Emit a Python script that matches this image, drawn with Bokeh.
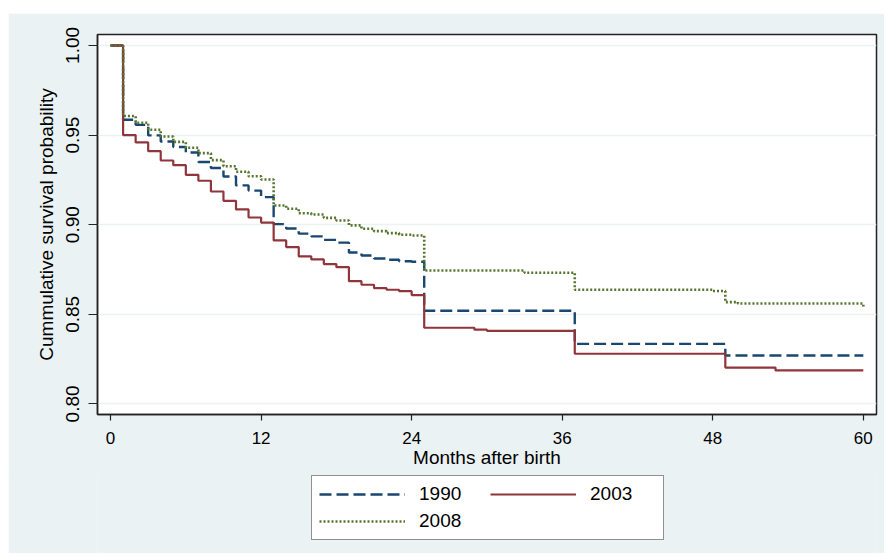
from bokeh.plotting import figure
from bokeh.models import Range1d, Legend, LegendItem, FixedTicker, NumeralTickFormatter
from bokeh.layouts import column
from bokeh.embed import file_html
from bokeh.resources import INLINE

# ---- data ----
months_1990 = [0, 1, 2, 3, 4, 5, 6, 7, 8, 9, 10, 11, 12, 13, 14, 15, 16, 17, 18, 19, 20,
               21, 22, 23, 24, 25, 37, 49, 60]
surv_1990 = [1.000, 0.9585, 0.9557, 0.9498, 0.9464, 0.9433, 0.9403, 0.9350, 0.9316, 0.9269,
             0.9219, 0.9190, 0.9154, 0.9003, 0.8979, 0.8950, 0.8935, 0.8915, 0.8900, 0.8845,
             0.8828, 0.8811, 0.8804, 0.8796, 0.8793, 0.8520, 0.8335, 0.8270, 0.8270]

months_2003 = [0, 1, 2, 3, 4, 5, 6, 7, 8, 9, 10, 11, 12, 13, 14, 15, 16, 17, 18, 19, 20,
               21, 22, 23, 24, 25, 29, 30, 37, 49, 53, 60]
surv_2003 = [1.000, 0.9500, 0.9459, 0.9410, 0.9358, 0.9332, 0.9278, 0.9245, 0.9185, 0.9133,
             0.9085, 0.9040, 0.9012, 0.8912, 0.8875, 0.8823, 0.8806, 0.8780, 0.8763, 0.8685,
             0.8665, 0.8646, 0.8637, 0.8629, 0.8607, 0.8425, 0.8414, 0.8408, 0.8280, 0.8203,
             0.8187, 0.8187]

months_2008 = [0, 1, 2, 3, 4, 5, 6, 7, 8, 9, 10, 11, 12, 13, 14, 15, 16, 17, 18, 19, 20,
               21, 22, 23, 24, 25, 33, 37, 48, 49, 50, 60]
surv_2008 = [1.000, 0.9606, 0.9569, 0.9530, 0.9492, 0.9462, 0.9429, 0.9399, 0.9360, 0.9326,
             0.9295, 0.9270, 0.9252, 0.9107, 0.9089, 0.9064, 0.9057, 0.9038, 0.9023, 0.8996,
             0.8977, 0.8964, 0.8953, 0.8944, 0.8940, 0.8744, 0.8732, 0.8637, 0.8630, 0.8568,
             0.8560, 0.8544]

x_ticks = [0, 12, 24, 36, 48, 60]
y_ticks = [0.80, 0.85, 0.90, 0.95, 1.00]
series_labels = ["1990", "2003", "2008"]

FONT = "Liberation Sans, Arial, sans-serif"
BG = "#EAF2F3"
STYLES = [dict(line_color="#1A476F", line_width=2.4, line_dash="12 5"),
          dict(line_color="#90353B", line_width=2.2, line_dash="solid"),
          dict(line_color="#55752F", line_width=2.6, line_dash="2 2")]
SERIES = [(months_1990, surv_1990), (months_2003, surv_2003), (months_2008, surv_2008)]

# ---------------- main plot ----------------
p = figure(width=876, height=461,
           x_range=Range1d(-1.04, 61.05), y_range=Range1d(0.7941, 1.0061),
           min_border_left=89, min_border_right=8, min_border_top=21, min_border_bottom=60,
           output_backend="svg", toolbar_location=None)
p.margin = (13, 0, 0, 8)
p.background_fill_color = "white"
p.border_fill_color = BG
p.outline_line_color = "#222222"
p.outline_line_width = 1.5

for (mx, sv), st in zip(SERIES, STYLES):
    p.step(mx, sv, mode="after", **st)

p.xaxis.ticker = FixedTicker(ticks=x_ticks)
p.yaxis.ticker = FixedTicker(ticks=y_ticks)
p.yaxis.formatter = NumeralTickFormatter(format="0.00")
p.yaxis.major_label_orientation = "vertical"
for ax in (p.xaxis, p.yaxis):
    ax.axis_line_color = "#222222"
    ax.axis_line_width = 1.5
    ax.major_tick_line_color = "#222222"
    ax.major_tick_line_width = 1.2
    ax.major_tick_in = 0
    ax.minor_tick_line_color = None
    ax.major_label_text_font = FONT
    ax.major_label_text_color = "black"
    ax.axis_label_text_font = FONT
    ax.axis_label_text_font_style = "normal"
    ax.axis_label_text_color = "black"
    ax.axis_label_text_font_size = "19px"

p.xaxis.major_tick_out = 6
p.xaxis.major_label_text_font_size = "17px"
p.xaxis.major_label_standoff = 11
p.xaxis.axis_label = "Months after birth"
p.xaxis.axis_label_standoff = 0

p.yaxis.major_tick_out = 9
p.yaxis.major_label_text_font_size = "19px"
p.yaxis.major_label_standoff = 9
p.yaxis.axis_label = "Cummulative survival probability"
p.yaxis.axis_label_standoff = 7

p.xgrid.grid_line_color = None
p.ygrid.grid_line_color = BG
p.ygrid.grid_line_width = 1.5

# ---------------- legend strip (same background, no axes) ----------------
pl = figure(width=876, height=82, x_range=Range1d(1000, 1001), y_range=Range1d(0, 1),
            min_border=0, x_axis_location=None, y_axis_location=None,
            output_backend="svg", toolbar_location=None)
pl.margin = (-3, 0, 0, 8)
pl.background_fill_color = BG
pl.border_fill_color = BG
pl.outline_line_color = None
pl.xgrid.grid_line_color = None
pl.ygrid.grid_line_color = None

leg_renderers = [pl.step(mx, sv, mode="after", **st) for (mx, sv), st in zip(SERIES, STYLES)]

legend = Legend(items=[LegendItem(label=lab, renderers=[r])
                       for lab, r in zip(series_labels, leg_renderers)],
                orientation="horizontal", ncols=2, location=(214, 13))
legend.border_line_color = "#222222"
legend.border_line_width = 1.2
legend.background_fill_color = "white"
legend.background_fill_alpha = 1.0
legend.label_text_font = FONT
legend.label_text_font_size = "19px"
legend.label_text_color = "black"
legend.glyph_width = 86
legend.glyph_height = 20
legend.label_height = 20
legend.label_width = 66
legend.label_standoff = 14
legend.padding = 7
legend.spacing = 5
legend.margin = 0
pl.add_layout(legend, "center")

layout = column(p, pl)
open("out.html", "w").write(file_html(layout, INLINE))
